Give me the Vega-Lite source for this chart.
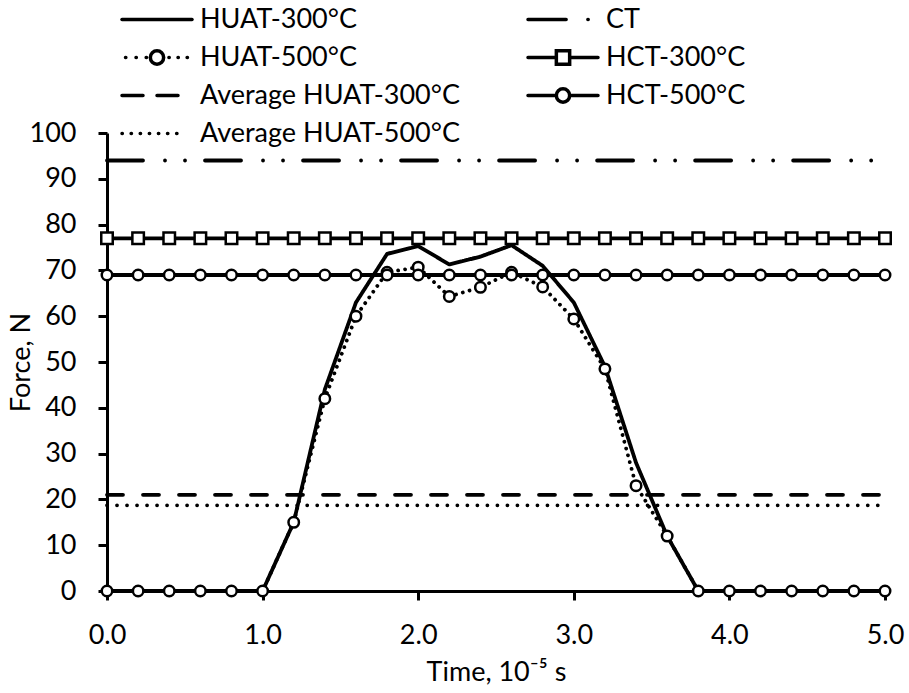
{
  "$schema": "https://vega.github.io/schema/vega-lite/v6.json",
  "autosize": {"type": "none"},
  "padding": {"left": 107, "top": 133, "right": 24, "bottom": 102},
  "width": 778,
  "height": 458,
  "background": "white",
  "config": {
    "view": {"stroke": null},
    "font": "Lato",
    "axis": {
      "domainColor": "black", "domainWidth": 3, "tickColor": "black", "tickWidth": 3, "tickSize": 9,
      "grid": false, "labelFont": "Lato", "labelFontSize": 27, "labelColor": "black",
      "titleFont": "Lato", "titleFontSize": 27, "titleFontWeight": "normal", "titleColor": "black"
    }
  },
  "data": {"values": [
    {"s":"HUAT-300°C","t":0,"f":0},{"s":"HUAT-300°C","t":0.2,"f":0},{"s":"HUAT-300°C","t":0.4,"f":0},{"s":"HUAT-300°C","t":0.6,"f":0},{"s":"HUAT-300°C","t":0.8,"f":0},{"s":"HUAT-300°C","t":1.0,"f":0},
    {"s":"HUAT-300°C","t":1.2,"f":15},{"s":"HUAT-300°C","t":1.4,"f":44},{"s":"HUAT-300°C","t":1.6,"f":63},{"s":"HUAT-300°C","t":1.8,"f":73.6},{"s":"HUAT-300°C","t":2.0,"f":75.3},
    {"s":"HUAT-300°C","t":2.2,"f":71.3},{"s":"HUAT-300°C","t":2.4,"f":73},{"s":"HUAT-300°C","t":2.6,"f":75.5},{"s":"HUAT-300°C","t":2.8,"f":71},{"s":"HUAT-300°C","t":3.0,"f":63},
    {"s":"HUAT-300°C","t":3.2,"f":49},{"s":"HUAT-300°C","t":3.4,"f":28},{"s":"HUAT-300°C","t":3.6,"f":12},{"s":"HUAT-300°C","t":3.8,"f":0},{"s":"HUAT-300°C","t":4.0,"f":0},
    {"s":"HUAT-300°C","t":4.2,"f":0},{"s":"HUAT-300°C","t":4.4,"f":0},{"s":"HUAT-300°C","t":4.6,"f":0},{"s":"HUAT-300°C","t":4.8,"f":0},{"s":"HUAT-300°C","t":5.0,"f":0},

    {"s":"HUAT-500°C","t":0,"f":0},{"s":"HUAT-500°C","t":0.2,"f":0},{"s":"HUAT-500°C","t":0.4,"f":0},{"s":"HUAT-500°C","t":0.6,"f":0},{"s":"HUAT-500°C","t":0.8,"f":0},{"s":"HUAT-500°C","t":1.0,"f":0},
    {"s":"HUAT-500°C","t":1.2,"f":15},{"s":"HUAT-500°C","t":1.4,"f":42},{"s":"HUAT-500°C","t":1.6,"f":60},{"s":"HUAT-500°C","t":1.8,"f":69.6},{"s":"HUAT-500°C","t":2.0,"f":70.7},
    {"s":"HUAT-500°C","t":2.2,"f":64.3},{"s":"HUAT-500°C","t":2.4,"f":66.3},{"s":"HUAT-500°C","t":2.6,"f":69.6},{"s":"HUAT-500°C","t":2.8,"f":66.4},{"s":"HUAT-500°C","t":3.0,"f":59.4},
    {"s":"HUAT-500°C","t":3.2,"f":48.5},{"s":"HUAT-500°C","t":3.4,"f":23},{"s":"HUAT-500°C","t":3.6,"f":12},{"s":"HUAT-500°C","t":3.8,"f":0},{"s":"HUAT-500°C","t":4.0,"f":0},
    {"s":"HUAT-500°C","t":4.2,"f":0},{"s":"HUAT-500°C","t":4.4,"f":0},{"s":"HUAT-500°C","t":4.6,"f":0},{"s":"HUAT-500°C","t":4.8,"f":0},{"s":"HUAT-500°C","t":5.0,"f":0},

    {"s":"HCT-300°C","t":0,"f":77},{"s":"HCT-300°C","t":0.2,"f":77},{"s":"HCT-300°C","t":0.4,"f":77},{"s":"HCT-300°C","t":0.6,"f":77},{"s":"HCT-300°C","t":0.8,"f":77},{"s":"HCT-300°C","t":1.0,"f":77},
    {"s":"HCT-300°C","t":1.2,"f":77},{"s":"HCT-300°C","t":1.4,"f":77},{"s":"HCT-300°C","t":1.6,"f":77},{"s":"HCT-300°C","t":1.8,"f":77},{"s":"HCT-300°C","t":2.0,"f":77},
    {"s":"HCT-300°C","t":2.2,"f":77},{"s":"HCT-300°C","t":2.4,"f":77},{"s":"HCT-300°C","t":2.6,"f":77},{"s":"HCT-300°C","t":2.8,"f":77},{"s":"HCT-300°C","t":3.0,"f":77},
    {"s":"HCT-300°C","t":3.2,"f":77},{"s":"HCT-300°C","t":3.4,"f":77},{"s":"HCT-300°C","t":3.6,"f":77},{"s":"HCT-300°C","t":3.8,"f":77},{"s":"HCT-300°C","t":4.0,"f":77},
    {"s":"HCT-300°C","t":4.2,"f":77},{"s":"HCT-300°C","t":4.4,"f":77},{"s":"HCT-300°C","t":4.6,"f":77},{"s":"HCT-300°C","t":4.8,"f":77},{"s":"HCT-300°C","t":5.0,"f":77},

    {"s":"HCT-500°C","t":0,"f":69},{"s":"HCT-500°C","t":0.2,"f":69},{"s":"HCT-500°C","t":0.4,"f":69},{"s":"HCT-500°C","t":0.6,"f":69},{"s":"HCT-500°C","t":0.8,"f":69},{"s":"HCT-500°C","t":1.0,"f":69},
    {"s":"HCT-500°C","t":1.2,"f":69},{"s":"HCT-500°C","t":1.4,"f":69},{"s":"HCT-500°C","t":1.6,"f":69},{"s":"HCT-500°C","t":1.8,"f":69},{"s":"HCT-500°C","t":2.0,"f":69},
    {"s":"HCT-500°C","t":2.2,"f":69},{"s":"HCT-500°C","t":2.4,"f":69},{"s":"HCT-500°C","t":2.6,"f":69},{"s":"HCT-500°C","t":2.8,"f":69},{"s":"HCT-500°C","t":3.0,"f":69},
    {"s":"HCT-500°C","t":3.2,"f":69},{"s":"HCT-500°C","t":3.4,"f":69},{"s":"HCT-500°C","t":3.6,"f":69},{"s":"HCT-500°C","t":3.8,"f":69},{"s":"HCT-500°C","t":4.0,"f":69},
    {"s":"HCT-500°C","t":4.2,"f":69},{"s":"HCT-500°C","t":4.4,"f":69},{"s":"HCT-500°C","t":4.6,"f":69},{"s":"HCT-500°C","t":4.8,"f":69},{"s":"HCT-500°C","t":5.0,"f":69},

    {"s":"CT","t":0,"f":94},{"s":"CT","t":5.0,"f":94},
    {"s":"Average HUAT-300°C","t":0,"f":21},{"s":"Average HUAT-300°C","t":5.0,"f":21},
    {"s":"Average HUAT-500°C","t":0,"f":18.7},{"s":"Average HUAT-500°C","t":5.0,"f":18.7}
  ]},
  "encoding": {
    "x": {"field": "t", "type": "quantitative", "scale": {"domain": [0, 5], "nice": false},
      "axis": {"values": [0,1,2,3,4,5], "format": ".1f", "labelFlush": false, "labelPadding": 22, "title": "Time, 10⁻⁵ s", "titlePadding": 11}},
    "y": {"field": "f", "type": "quantitative", "scale": {"domain": [0, 100], "nice": false},
      "axis": {"values": [0,10,20,30,40,50,60,70,80,90,100], "labelFlush": false, "labelPadding": 22, "title": "Force, N", "titlePadding": -6}}
  },
  "layer": [
    {
      "mark": {"type": "line", "color": "black", "strokeWidth": 3.8, "strokeCap": "round", "strokeJoin": "round"},
      "encoding": {
        "strokeDash": {"field": "s", "type": "nominal", "legend": null,
          "scale": {
            "domain": ["CT","HCT-300°C","HCT-500°C","HUAT-300°C","HUAT-500°C","Average HUAT-300°C","Average HUAT-500°C"],
            "range": [[36,22,0.01,20,0.01,20],[1,0],[1,0],[1,0],[0.01,7],[16,20],[0.01,10]]
          }}
      }
    },
    {
      "transform": [{"filter": {"field": "s", "oneOf": ["HUAT-500°C", "HCT-500°C"]}}],
      "mark": {"type": "point", "shape": "circle", "filled": true, "fill": "white", "stroke": "black", "strokeWidth": 2.5, "size": 110, "opacity": 1}
    },
    {
      "transform": [{"filter": {"field": "s", "equal": "HCT-300°C"}}],
      "mark": {"type": "point", "shape": "square", "filled": true, "fill": "white", "stroke": "black", "strokeWidth": 2.5, "size": 132, "opacity": 1}
    },
    {
      "mark": {"type": "point", "color": "black", "filled": false, "strokeOpacity": 0, "fillOpacity": 0},
      "encoding": {
        "x": {"value": 0}, "y": {"value": 0},
        "shape": {"field": "s", "type": "nominal",
          "scale": {
            "domain": ["HUAT-300°C","HUAT-500°C","Average HUAT-300°C","Average HUAT-500°C","CT","HCT-300°C","HCT-500°C"],
            "range": [
              "M-1,0H1",
              "M-0.9,0h0.01M-0.6,0h0.01M-0.31,0h0.01M-0.19,0A0.19,0.19,0,1,0,0.19,0A0.19,0.19,0,1,0,-0.19,0ZM0.34,0h0.01M0.6,0h0.01M0.86,0h0.01",
              "M-1,0H-0.4M0,0H0.6",
              "M-1,0h0.01M-0.74,0h0.01M-0.48,0h0.01M-0.22,0h0.01M0.04,0h0.01M0.3,0h0.01M0.56,0h0.01",
              "M-1,0H0.09M0.71,0h0.01",
              "M-1,0H-0.19M0.19,0H1M-0.19,-0.19H0.19V0.19H-0.19Z",
              "M-1,0H-0.19M0.19,0H1M-0.19,0A0.19,0.19,0,1,0,0.19,0A0.19,0.19,0,1,0,-0.19,0Z"
            ]
          },
          "legend": {
            "title": null, "orient": "none", "legendX": 13, "legendY": -127, "columns": 2,
            "symbolSize": 4900, "symbolStrokeWidth": 3.5, "symbolStrokeColor": "black", "symbolFillColor": "white",
            "symbolOpacity": 1, "clipHeight": 27,
            "labelFont": "Lato", "labelFontSize": 27, "labelColor": "black", "labelLimit": 500,
            "labelOffset": 6, "rowPadding": 10, "columnPadding": 66, "padding": 0,
            "encoding": {"symbols": {"fill": {"value": "white"}, "stroke": {"value": "black"}, "strokeWidth": {"value": 3.5}, "opacity": {"value": 1}, "fillOpacity": {"value": 1}, "strokeOpacity": {"value": 1}, "strokeCap": {"value": "round"}, "size": {"value": 4900}}}
          }
        }
      }
    }
  ]
}
